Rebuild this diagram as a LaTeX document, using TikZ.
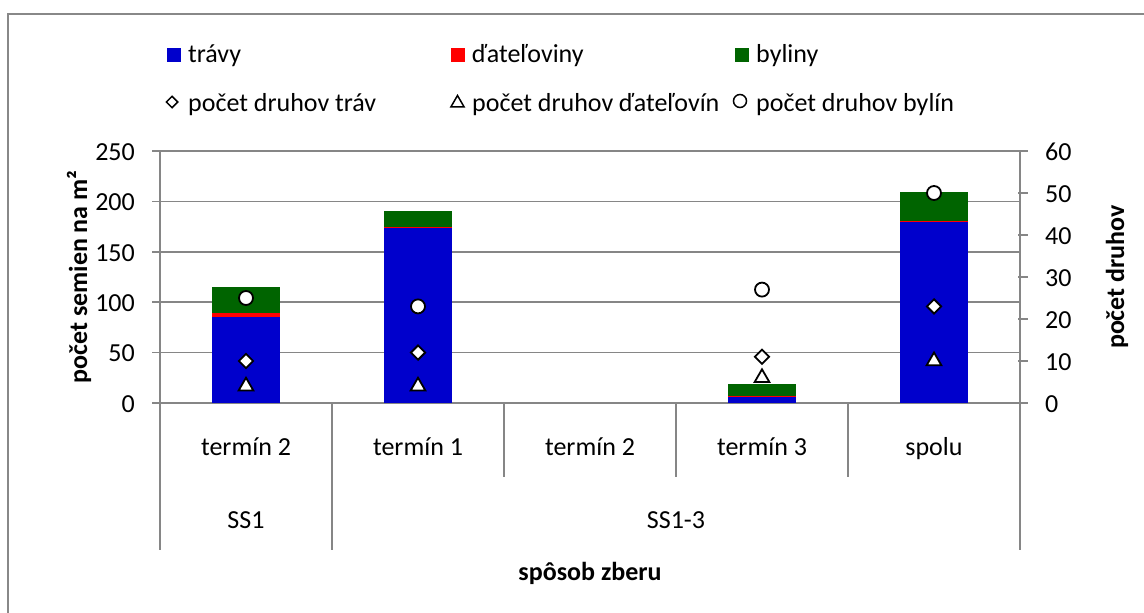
\documentclass[tikz,border=0pt]{standalone}
\usepackage{fontspec}
\setmainfont{Carlito}
\usetikzlibrary{shapes.geometric}
\definecolor{grassblue}{RGB}{0,0,204}
\definecolor{cloverred}{RGB}{255,0,0}
\definecolor{herbgreen}{RGB}{0,100,0}
\definecolor{gridgrey}{RGB}{134,134,134}
\definecolor{framegrey}{RGB}{136,136,136}
\begin{document}
\begin{tikzpicture}[x=1pt,y=-1pt,
  txt/.style={font=\fontsize{26}{30}\selectfont, inner sep=0pt},
  boldtxt/.style={font=\fontsize{26}{30}\selectfont\bfseries, inner sep=0pt},
  gridline/.style={draw=gridgrey, line width=1.6pt},
  mark base/.style={draw=black, fill=white, line width=1.8pt, inner sep=0pt},
  mdia/.style={mark base, diamond, minimum width=15pt, minimum height=15pt},
  mtri/.style={mark base, regular polygon, regular polygon sides=3, minimum size=17pt},
  mcirc/.style={mark base, circle, minimum size=14pt},
  swatch/.style={inner sep=0pt, minimum size=14pt}]
\useasboundingbox (0,0) rectangle (1144,613);
% chart frame (top and left edges)
\draw[framegrey, line width=2pt] (8,613) -- (8,14) -- (1144,14);

% legend
\node[swatch, fill=grassblue] (lg1) at (173.5,54.5) {};
\node[txt, anchor=base west] (lt1) at (188,62) {trávy};
\node[swatch, fill=cloverred] (lg2) at (457.5,54.5) {};
\node[txt, anchor=base west] (lt2) at (472,62) {ďateľoviny};
\node[swatch, fill=herbgreen] (lg3) at (741.5,54.5) {};
\node[txt, anchor=base west] (lt3) at (756,62) {byliny};
\node[mdia, line width=1.5pt, minimum width=12pt, minimum height=12pt] (lm1) at (172,102) {};
\node[mtri, line width=1.5pt, minimum size=15pt] (lm2) at (457.5,103) {};
\node[mcirc, line width=1.5pt, minimum size=13pt] (lm3) at (740,101) {};
\node[txt, anchor=base west] (lt4) at (188,111) {počet druhov tráv};
\node[txt, anchor=base west] (lt5) at (472,111) {počet druhov ďateľovín};
\node[txt, anchor=base west] (lt6) at (756,111) {počet druhov bylín};

% gridlines, left axis ticks and labels
\foreach \v in {0,50,...,250} {
  \draw[gridline] (152,{403-1.008*\v}) -- (1020,{403-1.008*\v});
  \node[txt, anchor=east] (l\v) at (135,{404-1.008*\v}) {\v};
}
% right axis ticks and labels
\foreach \v in {0,10,...,60} {
  \draw[gridline] (1018,{403-4.2*\v}) -- (1028,{403-4.2*\v});
  \node[txt, anchor=west] (r\v) at (1045,{404-4.2*\v}) {\v};
}
% axes and category separators
\draw[gridline] (160,151) -- (160,550);
\draw[gridline] (332,403) -- (332,550);
\draw[gridline] (1020,151) -- (1020,550);
\foreach \x in {504,676,848} \draw[gridline] (\x,403) -- (\x,477);

% stacked bars: grasses, clovers, herbs
\foreach \cx/\a/\b/\c in {246/85/4/26, 418/174/1/15.5, 762/6/1/11.5, 934/180/1/28} {
  \fill[grassblue] (\cx-34,403) rectangle (\cx+34,{403-1.008*\a});
  \fill[cloverred] (\cx-34,{403-1.008*\a}) rectangle (\cx+34,{403-1.008*(\a+\b)});
  \fill[herbgreen] (\cx-34,{403-1.008*(\a+\b)}) rectangle (\cx+34,{403-1.008*(\a+\b+\c)});
}
% species counts (right axis)
\foreach \cx/\d/\t/\o [count=\i] in {246/10/4/25, 418/12/4/23, 762/11/6/27, 934/23/10/50} {
  \node[mdia] (d\i) at (\cx,{403-4.2*\d}) {};
  \node[mtri] (t\i) at (\cx,{403-4.2*\t}) {};
  \node[mcirc] (o\i) at (\cx,{403-4.2*\o}) {};
}

% category labels
\node[txt, anchor=base] (c1) at (246,455) {termín 2};
\node[txt, anchor=base] (c2) at (418,455) {termín 1};
\node[txt, anchor=base] (c3) at (590,455) {termín 2};
\node[txt, anchor=base] (c4) at (762,455) {termín 3};
\node[txt, anchor=base] (c5) at (934,455) {spolu};
\node[txt, anchor=base] (g1) at (246,528) {SS1};
\node[txt, anchor=base] (g2) at (676,528) {SS1-3};

% axis titles
\node[boldtxt, anchor=base] (xt) at (590,580) {spôsob zberu};
\node[boldtxt, rotate=90] (yl) at (79,277) {počet semien na m²};
\node[boldtxt, rotate=90] (yr) at (1117,277) {počet druhov};
\end{tikzpicture}
\end{document}
